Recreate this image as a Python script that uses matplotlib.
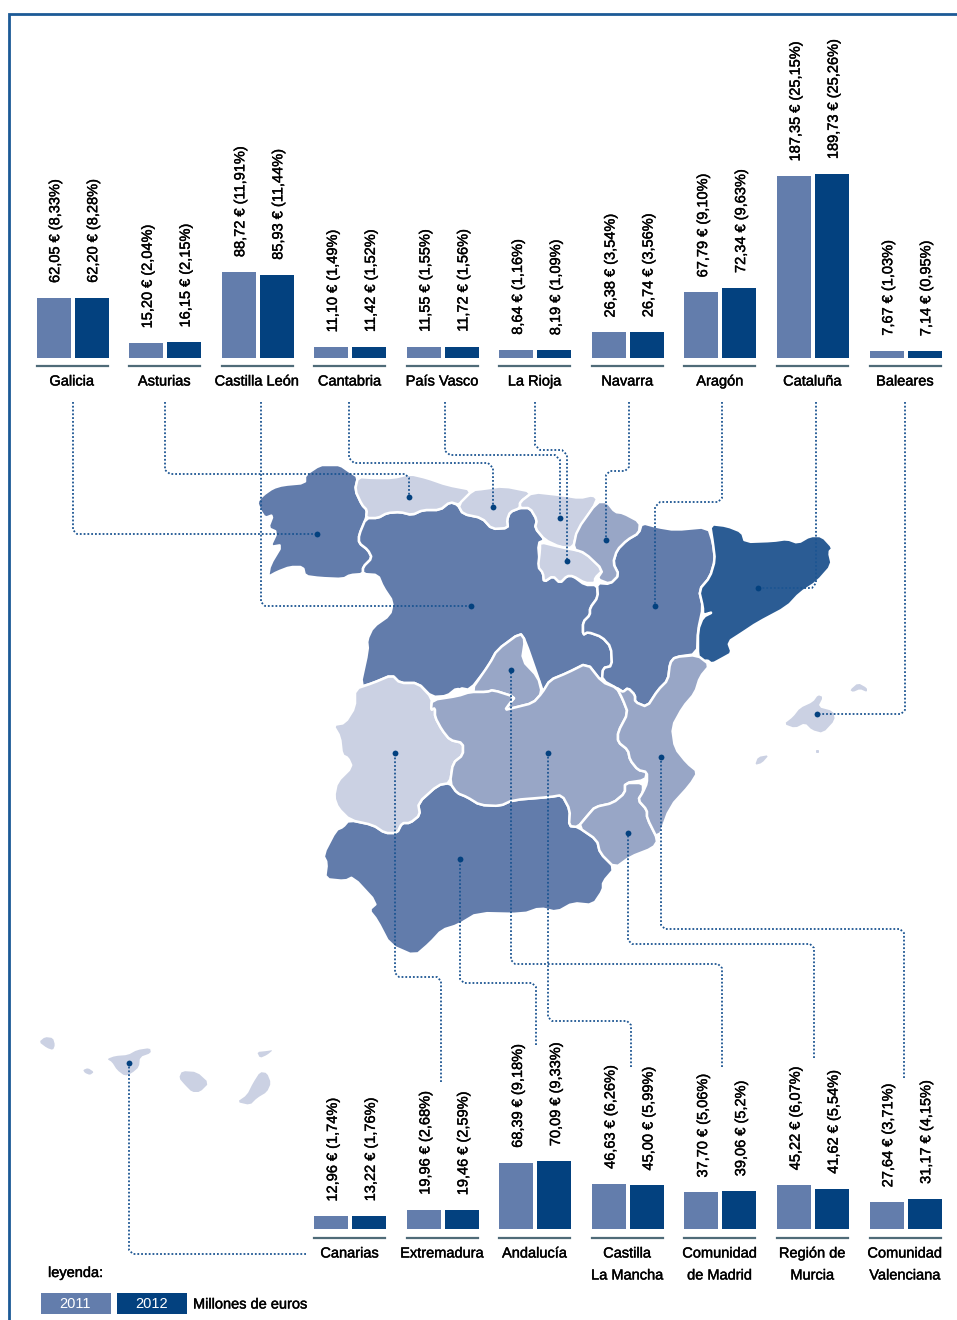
import matplotlib
matplotlib.use('Agg')
import matplotlib.pyplot as plt
import matplotlib.patheffects as pe
import numpy as np
from matplotlib.patches import Polygon

plt.rcParams['font.family'] = ['Liberation Sans Narrow', 'Liberation Sans', 'DejaVu Sans']

W, H = 957, 1320
C_2011 = '#637dac'
C_2012 = '#03417f'
C_DARK = '#627cab'
C_MED = '#98a6c6'
C_LIGHT = '#cbd1e3'
C_CAT = '#2b5c94'
C_LINE = '#1c5592'
FS = 10.5
TXT = {'fontsize': FS, 'path_effects': [pe.withStroke(linewidth=0.3, foreground='black')]}

# Datos: fila superior
top_names = ['Galicia', 'Asturias', 'Castilla León', 'Cantabria', 'País Vasco',
             'La Rioja', 'Navarra', 'Aragón', 'Cataluña', 'Baleares']
top_2011 = [62.05, 15.20, 88.72, 11.10, 11.55, 8.64, 26.38, 67.79, 187.35, 7.67]
top_2012 = [62.20, 16.15, 85.93, 11.42, 11.72, 8.19, 26.74, 72.34, 189.73, 7.14]
top_pct_2011 = ['8,33', '2,04', '11,91', '1,49', '1,55', '1,16', '3,54', '9,10', '25,15', '1,03']
top_pct_2012 = ['8,28', '2,15', '11,44', '1,52', '1,56', '1,09', '3,56', '9,63', '25,26', '0,95']

# Datos: fila inferior
bot_names = ['Canarias', 'Extremadura', 'Andalucía', 'Castilla\nLa Mancha',
             'Comunidad\nde Madrid', 'Región de\nMurcia', 'Comunidad\nValenciana']
bot_2011 = [12.96, 19.96, 68.39, 46.63, 37.70, 45.22, 27.64]
bot_2012 = [13.22, 19.46, 70.09, 45.00, 39.06, 41.62, 31.17]
bot_pct_2011 = ['1,74', '2,68', '9,18', '6,26', '5,06', '6,07', '3,71']
bot_pct_2012 = ['1,76', '2,59', '9,33', '5,99', '5,2', '5,54', '4,15']

# Contornos del mapa (pixeles de la imagen)
galicia = [(358,477),(350,472),(340,465),(330,465),(320,465),(305,475),(305,483),(283,485),(273,488),(263,495),
           (257,502),(260,510),(265,518),(273,515),(268,528),(277,532),(270,547),(282,545),(270,565),(268,577),
           (277,572),(290,567),(303,567),(305,576),(320,578),(343,579),(350,575),(363,574),(363,567),(372,558),
           (368,550),(359,543),(359,535),(366,519),(367,510),(362,505),(355,490)]
asturias = [(358,477),(373,478),(393,478),(410,474),(427,478),(447,485),(473,490),(460,505),(450,502),(440,510),
            (423,510),(412,515),(400,512),(387,513),(378,518),(366,518),(367,510),(362,505),(355,490)]
cantabria = [(473,490),(483,489),(503,486),(533,492),(520,502),(520,508),(510,512),(507,520),(508,528),(492,529),
             (482,518),(463,514),(458,505)]
pais_vasco = [(533,492),(560,495),(580,498),(593,495),(598,500),(577,532),(573,548),(560,547),(545,540),(535,528),
              (537,520),(530,508),(520,508),(520,502)]
rioja = [(540,542),(560,547),(585,552),(603,570),(595,578),(595,583),(585,583),(573,576),(567,576),(560,583),
         (553,576),(544,582),(543,573),(538,567),(540,550)]
navarra = [(597,502),(607,502),(615,512),(623,513),(640,522),(639,533),(627,540),(617,550),(613,563),(619,575),
           (610,584),(597,579),(603,570),(585,553),(573,549),(577,530)]
aragon = [(642,523),(657,527),(675,530),(708,527),(713,543),(715,560),(710,577),(699,590),(703,607),(698,630),
          (697,654),(675,657),(670,663),(668,680),(658,690),(647,707),(635,702),(635,695),(628,688),(623,692),
          (620,690),(602,680),(603,668),(612,666),(611,647),(602,637),(588,632),(583,635),(583,622),(590,615),
          (590,608),(598,597),(597,583),(610,584),(619,575),(613,563),(617,550),(627,540),(639,533)]
cataluna = [(710,524),(727,526),(742,532),(745,542),(773,541),(787,539),(798,543),(810,536),(822,536),(833,548),
            (829,552),(832,565),(817,582),(800,593),(787,607),(757,623),(742,633),(728,642),(732,653),(723,658),
            (712,664),(707,660),(702,663),(698,657),(698,630),(703,617),(713,612),(703,615),(703,607),(699,590),
            (710,577),(715,560),(713,543)]
castilla_leon = [(366,518),(378,518),(387,513),(400,512),(412,515),(423,510),(440,510),(450,502),(458,505),(463,514),
                 (482,518),(492,529),(508,528),(507,520),(510,512),(520,508),(530,508),(537,520),(535,528),(545,540),
                 (538,543),(540,567),(543,573),(544,582),(553,576),(560,583),(567,576),(573,576),(585,585),(597,585),
                 (598,597),(590,608),(590,615),(583,622),(583,635),(588,632),(602,637),(611,647),(612,666),(603,668),
                 (602,682),(587,663),(567,673),(550,680),(543,692),(540,683),(525,640),(520,633),(497,650),(488,667),
                 (470,690),(460,688),(463,693),(457,688),(447,696),(432,697),(418,683),(400,683),(392,675),(373,683),
                 (360,687),(368,650),(367,640),(373,627),(390,615),(393,602),(383,587),(378,575),(363,574),(363,567),
                 (372,558),(368,550),(359,543),(359,535)]
madrid = [(520,633),(525,640),(522,660),(538,677),(542,693),(533,703),(513,708),(505,710),(510,703),(515,697),
          (493,690),(487,692),(470,692),(490,663),(497,650)]
la_mancha = [(432,700),(458,696),(470,692),(487,692),(493,690),(515,697),(510,703),(505,710),(513,708),(533,703),
             (542,693),(550,680),(567,673),(587,663),(602,682),(617,688),(623,700),(628,713),(618,732),(618,742),
             (628,750),(630,760),(638,770),(647,772),(645,780),(625,783),(625,793),(613,803),(595,807),(588,815),
             (578,827),(569,826),(570,810),(562,795),(550,797),(513,800),(500,806),(480,805),(467,797),(457,793),
             (450,783),(453,763),(463,755),(463,743),(450,740),(442,730),(435,717),(435,708),(431,710)]
extremadura = [(355,689),(373,683),(392,675),(400,683),(418,683),(432,698),(431,710),(435,708),(435,717),(442,730),
               (450,740),(463,743),(463,755),(453,763),(450,783),(438,785),(418,803),(420,815),(410,823),(402,823),
               (397,833),(385,833),(373,825),(350,820),(338,808),(334,797),(337,782),(352,767),(348,758),(342,755),
               (340,737),(333,725),(345,723),(355,707)]
andalucia = [(349,820),(373,825),(385,833),(397,833),(402,823),(410,823),(420,815),(418,803),(438,785),(450,783),
             (457,793),(467,797),(480,805),(500,806),(513,800),(550,797),(562,795),(570,810),(569,826),(578,827),
             (597,840),(600,853),(615,868),(603,882),(603,890),(593,905),(573,903),(557,912),(540,908),(523,914),
             (478,913),(458,925),(442,930),(430,943),(415,956),(390,945),(377,920),(369,910),(377,903),(353,877),
             (345,881),(325,879),(327,863),(323,855),(336,830),(343,827)]
murcia = [(578,827),(588,815),(595,807),(613,803),(625,793),(625,783),(643,783),(643,792),(638,800),(647,810),
          (647,818),(658,840),(653,848),(630,857),(615,868),(600,853),(597,840)]
valencia = [(697,655),(710,665),(700,677),(695,693),(683,707),(672,727),(675,748),(687,763),(698,772),(690,785),
            (670,807),(658,840),(647,818),(647,810),(638,800),(643,792),(647,783),(647,772),(638,770),(630,760),
            (628,750),(618,742),(618,732),(628,713),(623,700),(617,688),(620,690),(623,692),(628,688),(635,695),
            (635,702),(647,707),(658,690),(668,680),(670,663),(675,657)]
mallorca = [(818,695),(823,697),(818,707),(833,711),(835,720),(823,733),(812,730),(805,723),(795,728),(784,724),
            (793,717),(800,708),(813,702)]
menorca = [(850,690),(858,683),(867,688),(867,692),(860,689),(853,692)]
ibiza = [(755,765),(758,757),(769,755),(762,763)]
formentera = [(816,750),(819,750),(819,753),(816,753)]
la_palma = [(39,1042),(45,1037),(53,1038),(55,1045),(53,1050),(47,1048)]
gomera = [(83,1070),(88,1068),(94,1072),(90,1075),(85,1073)]
tenerife = [(107,1059),(115,1056),(128,1055),(137,1050),(150,1048),(151,1053),(140,1057),(139,1067),(132,1073),
            (125,1076),(117,1070),(112,1062)]
gran_canaria = [(179,1078),(182,1071),(197,1072),(209,1083),(200,1092),(192,1092),(185,1085)]
fuerteventura = [(237,1102),(247,1095),(253,1083),(260,1072),(267,1073),(271,1083),(267,1092),(257,1098),(250,1105)]
lanzarote = [(257,1052),(267,1051),(273,1050),(267,1055),(260,1058)]

regiones = [(galicia, C_DARK), (castilla_leon, C_DARK), (aragon, C_DARK), (andalucia, C_DARK),
            (cataluna, C_CAT), (asturias, C_LIGHT), (cantabria, C_LIGHT), (pais_vasco, C_LIGHT),
            (rioja, C_LIGHT), (extremadura, C_LIGHT), (navarra, C_MED), (madrid, C_MED),
            (la_mancha, C_MED), (murcia, C_MED), (valencia, C_MED)]
islas = [mallorca, menorca, ibiza, formentera, la_palma, gomera, tenerife, gran_canaria, fuerteventura, lanzarote]

# Lineas de puntos: el ultimo vertice es el punto sobre el mapa
conectores = [
    [(73,402),(73,530),(77,534),(317,534)],
    [(165,402),(165,470),(170,474),(405,474),(409,478),(409,497)],
    [(261,402),(261,602),(265,606),(471,606)],
    [(349,402),(349,458),(354,463),(488,463),(493,468),(493,507)],
    [(445,402),(445,451),(450,455),(555,455),(560,460),(560,518)],
    [(535,402),(535,445),(540,450),(562,450),(567,455),(567,561)],
    [(629,402),(629,467),(625,471),(610,471),(606,475),(606,540)],
    [(722,402),(722,498),(718,502),(660,502),(655,507),(655,606)],
    [(816,402),(816,583),(812,588),(758,588)],
    [(905,402),(905,710),(901,714),(817,714)],
    [(306,1254),(133,1254),(129,1250),(129,1063)],
    [(441,1082),(441,981),(437,977),(399,977),(395,973),(395,753)],
    [(536,1045),(536,987),(532,983),(464,983),(460,979),(460,859)],
    [(631,1067),(631,1025),(627,1021),(552,1021),(548,1017),(548,753)],
    [(722,1067),(722,968),(718,964),(515,964),(511,960),(511,670)],
    [(814,1058),(814,948),(810,944),(632,944),(628,940),(628,833)],
    [(904,1078),(904,933),(900,929),(665,929),(661,925),(661,757)],
]


# Redondea un poco las esquinas de un contorno
def suavizar(pts, q=0.2):
    p = np.array(pts, dtype=float)
    n = np.roll(p, -1, axis=0)
    out = np.empty((len(p) * 2, 2))
    out[0::2] = p + q * (n - p)
    out[1::2] = p + (1 - q) * (n - p)
    return out


fig = plt.figure(figsize=(W / 100, H / 100), dpi=100)

# Ejes en pixeles para mapa, marco y leyenda
ax = fig.add_axes([0, 0, 1, 1])
ax.set_xlim(0, W)
ax.set_ylim(H, 0)
ax.axis('off')

for pts, color in regiones:
    ax.add_patch(Polygon(suavizar(pts), closed=True, facecolor=color, edgecolor='white', lw=1.8,
                         joinstyle='round', zorder=2))
for pts in islas:
    ax.add_patch(Polygon(suavizar(pts), closed=True, facecolor=C_LIGHT, edgecolor='none', zorder=2))

for c in conectores:
    xs, ys = zip(*c)
    ax.plot(xs, ys, color=C_LINE, lw=1.3, ls=(0, (1, 1.1)), zorder=3)
    ax.plot(xs[-1], ys[-1], 'o', color=C_2012, ms=4.2, mew=0, zorder=4)

# Marco
ax.plot([957, 9, 9], [14, 14, 1320], color='#1c5a96', lw=2, solid_joinstyle='miter', zorder=1)

# Leyenda
ax.text(48, 1273, 'leyenda:', va='center', ha='left', **TXT)
ax.fill_between([41, 111], 1293, 1314, color=C_2011, lw=0)
ax.fill_between([117, 187], 1293, 1314, color=C_2012, lw=0)
ax.text(75, 1304.5, '2011', color='white', fontsize=FS, va='center', ha='center')
ax.text(152, 1304.5, '2012', color='white', fontsize=FS, va='center', ha='center')
ax.text(193, 1304.5, 'Millones de euros', va='center', ha='left', **TXT)


def fila_barras(names, v2011, v2012, p2011, p2012, first, baseline, line_y):
    # Un eje transparente por fila: x = indice de comunidad, y = millones de euros
    pitch = 92.56
    scale = 0.97
    x0 = 72.5
    a = fig.add_axes([0, 1 - baseline / H, 1, baseline / H])
    a.patch.set_alpha(0)
    a.axis('off')
    a.set_xlim(-x0 / pitch, (W - x0) / pitch)
    a.set_ylim(0, baseline / scale)
    x = np.arange(len(names)) + first
    w = 34 / pitch
    off = 19 / pitch
    a.bar(x - off, v2011, w, color=C_2011)
    a.bar(x + off, v2012, w, color=C_2012)
    for i in range(len(names)):
        for dx, v, p in ((-off, v2011[i], p2011[i]), (off, v2012[i], p2012[i])):
            txt = f'{v:.2f}'.replace('.', ',') + ' € (' + p + '%)'
            a.annotate(txt, (x[i] + dx, v), xytext=(1.2, 10.7), textcoords='offset points',
                       rotation=90, ha='center', va='bottom', **TXT)
        cx = x0 + x[i] * pitch
        ax.plot([cx - 36, cx + 35], [line_y, line_y], color='#4f6b78', lw=1.6, zorder=2)
        ax.text(cx - 0.5, line_y + 15.5, names[i].split('\n')[0], ha='center', va='center', **TXT)
        if '\n' in names[i]:
            ax.text(cx - 0.5, line_y + 37.5, names[i].split('\n')[1], ha='center', va='center', **TXT)


fila_barras(top_names, top_2011, top_2012, top_pct_2011, top_pct_2012, 0, 358, 366)
fila_barras(bot_names, bot_2011, bot_2012, bot_pct_2011, bot_pct_2012, 3, 1229, 1238)

fig.savefig('out.png', dpi=100)
